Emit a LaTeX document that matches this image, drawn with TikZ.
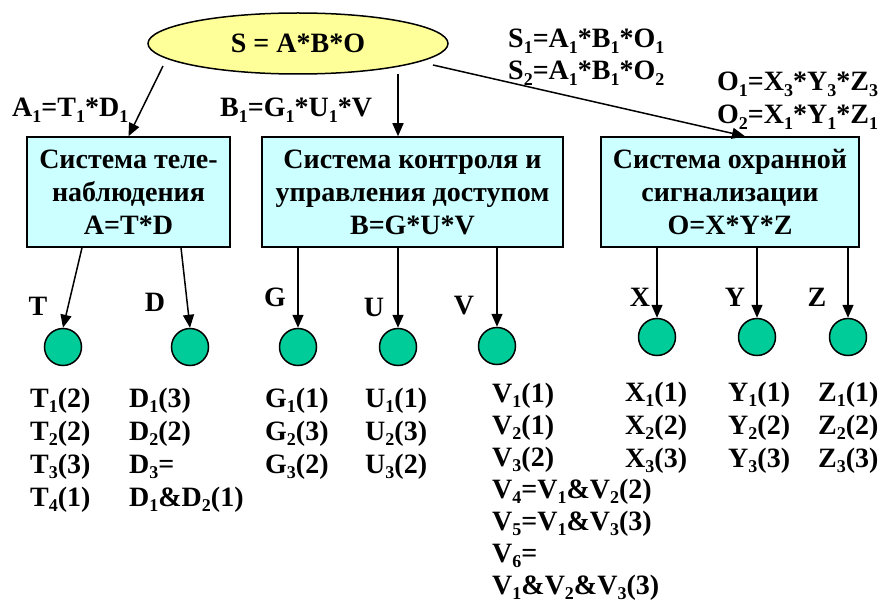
\documentclass[tikz,border=0pt]{standalone}
\usepackage{fontspec}
\setmainfont{Liberation Serif}
\usetikzlibrary{shapes.geometric,arrows.meta,calc}
\definecolor{boxcyan}{HTML}{CCFFFF}
\definecolor{leafgreen}{HTML}{00CC99}
\definecolor{ellyellow}{HTML}{FFFF99}
\newcommand\sbx[1]{\raisebox{-0.2em}{\fontsize{18}{18}\selectfont #1}}
\begin{document}
\begin{tikzpicture}[x=1pt,y=-1pt,
  every node/.style={font=\fontsize{28}{33}\selectfont\bfseries, inner sep=0pt},
  arr/.style={draw, line width=1.5pt, -{Triangle[length=13pt,width=11pt]}},
  sysbox/.style={draw, line width=1.5pt, fill=boxcyan, align=center, minimum height=110pt},
  leaf/.style={circle, draw, line width=1.5pt, fill=leafgreen, minimum size=37pt},
  lbl/.style={anchor=base west}]
\useasboundingbox (0,0) rectangle (888,604);

% root
\node[ellipse, draw, line width=1.5pt, fill=ellyellow, minimum width=300pt, minimum height=61pt] (S) at (298,43.5) {S = A*B*O};

% systems
\node[sysbox, minimum width=203pt] (A) at (128.5,192) {Система теле-\\наблюдения\\A=T*D};
\node[sysbox, minimum width=301pt] (B) at (412.5,192) {Система контроля и\\управления доступом\\B=G*U*V};
\node[sysbox, minimum width=258pt] (O) at (730,192) {Система охранной\\сигнализации\\O=X*Y*Z};

% arrows from root
\draw[arr] ($(S.center)+(-135,22.5)$) -- (A.north);
\draw[arr] ($(S.center)+(100,30.5)$) -- ($(B.north)+(-14.5,0)$);
\draw[arr] ($(S.center)+(135,21.5)$) -- ($(O.north)+(15,0)$);

% formulas
\node[lbl] (fa) at (12,117) {A\sbx{1}=T\sbx{1}*D\sbx{1}};
\node[lbl] (fb) at (220,117) {B\sbx{1}=G\sbx{1}*U\sbx{1}*V};
\node[lbl] (fs1) at (508,48) {S\sbx{1}=A\sbx{1}*B\sbx{1}*O\sbx{1}};
\node[lbl] (fs2) at (508,80) {S\sbx{2}=A\sbx{1}*B\sbx{1}*O\sbx{2}};
\node[lbl] (fo1) at (717,91) {O\sbx{1}=X\sbx{3}*Y\sbx{3}*Z\sbx{3}};
\node[lbl] (fo2) at (717,124) {O\sbx{2}=X\sbx{1}*Y\sbx{1}*Z\sbx{1}};

% leaves
\node[leaf] (T) at (63,347) {};
\node[leaf] (D) at (190,347) {};
\node[leaf] (G) at (298,347) {};
\node[leaf] (U) at (398,347) {};
\node[leaf] (V) at (497,346) {};
\node[leaf] (X) at (657,337) {};
\node[leaf] (Y) at (757,337) {};
\node[leaf] (Z) at (848,337) {};

\draw[arr] ($(A.south)+(-46.5,0)$) -- (T.north);
\draw[arr] ($(A.south)+(52.5,0)$) -- (D.north);
\foreach \n in {G,U,V} \draw[arr] (\n.north |- B.south) -- (\n.north);
\foreach \n in {X,Y,Z} \draw[arr] (\n.north |- O.south) -- (\n.north);

% leaf letters
\node (lT) at (38,306) {T};
\node (lD) at (155,302) {D};
\node (lG) at (275,297) {G};
\node (lU) at (374,307) {U};
\node (lV) at (464,306) {V};
\node (lX) at (640,297) {X};
\node (lY) at (735,297) {Y};
\node (lZ) at (817,297) {Z};

% value lists
\foreach \t [count=\i] in {T\sbx{1}(2),T\sbx{2}(2),T\sbx{3}(3),T\sbx{4}(1)}
  \node[lbl] (t\i) at (30,{374+33*\i}) {\t};
\foreach \t [count=\i] in {D\sbx{1}(3),D\sbx{2}(2),D\sbx{3}=,D\sbx{1}\&D\sbx{2}(1)}
  \node[lbl] (d\i) at (129,{374+33*\i}) {\t};
\foreach \t [count=\i] in {G\sbx{1}(1),G\sbx{2}(3),G\sbx{3}(2)}
  \node[lbl] (g\i) at (265,{374+33*\i}) {\t};
\foreach \t [count=\i] in {U\sbx{1}(1),U\sbx{2}(3),U\sbx{3}(2)}
  \node[lbl] (u\i) at (365,{374+33*\i}) {\t};
\foreach \t [count=\i] in {V\sbx{1}(1),V\sbx{2}(1),V\sbx{3}(2),V\sbx{4}=V\sbx{1}\&V\sbx{2}(2),V\sbx{5}=V\sbx{1}\&V\sbx{3}(3),V\sbx{6}=,V\sbx{1}\&V\sbx{2}\&V\sbx{3}(3)}
  \node[lbl] (v\i) at (492,{370+32*\i}) {\t};
\foreach \t [count=\i] in {X\sbx{1}(1),X\sbx{2}(2),X\sbx{3}(3)}
  \node[lbl] (x\i) at (625,{368+33*\i}) {\t};
\foreach \t [count=\i] in {Y\sbx{1}(1),Y\sbx{2}(2),Y\sbx{3}(3)}
  \node[lbl] (y\i) at (728,{368+33*\i}) {\t};
\foreach \t [count=\i] in {Z\sbx{1}(1),Z\sbx{2}(2),Z\sbx{3}(3)}
  \node[lbl] (z\i) at (818,{368+33*\i}) {\t};
\end{tikzpicture}
\end{document}
